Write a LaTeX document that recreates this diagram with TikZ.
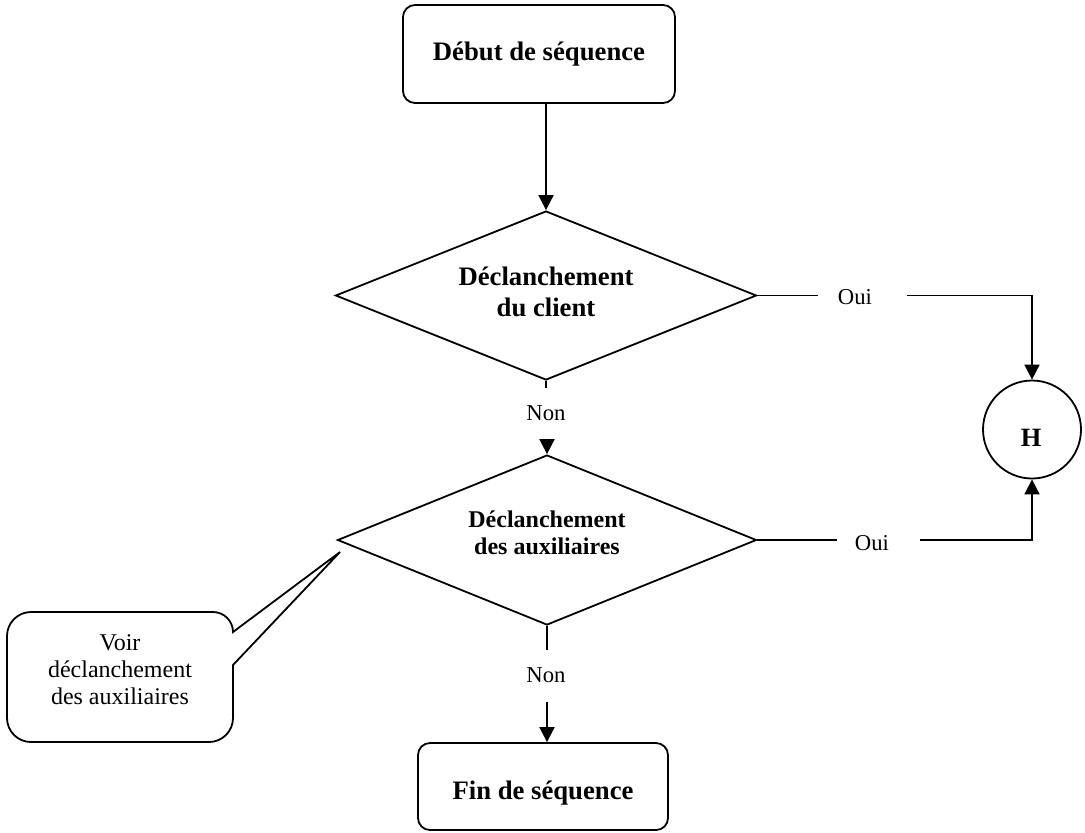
\documentclass[tikz,border=0pt]{standalone}
\usepackage{fontspec}
\setmainfont{Liberation Serif}
\usetikzlibrary{shapes.geometric,arrows.meta}
\begin{document}
\begin{tikzpicture}[x=0.5pt,y=-0.5pt, line width=0.9pt,
  box/.style={draw, rounded corners=6pt, inner sep=0pt,
    font=\fontsize{13.35}{15.5}\selectfont\bfseries},
  decision/.style={draw, diamond, aspect=2.5, inner sep=0pt, align=center},
  lbl/.style={font=\fontsize{11.35}{13.5}\selectfont, inner sep=0pt},
  arr/.style={-{Triangle[length=7.5pt,width=7.5pt]}},
]
\useasboundingbox (0,0) rectangle (1085,832);

% main flow
\node[box, minimum width=136pt, minimum height=49pt] (start) at (539,54) {Début de séquence};
\node[decision, minimum width=210.5pt, minimum height=84.5pt, text depth=4pt,
      font=\fontsize{13.35}{15.5}\selectfont\bfseries] (d1) at (546,295.5) {Déclanchement\\du client};
\node[decision, minimum width=209.5pt, minimum height=85pt, text depth=7pt,
      font=\fontsize{12}{13.5}\selectfont\bfseries] (d2) at (547,540) {Déclanchement\\des auxiliaires};
\node[draw, circle, minimum size=49pt, inner sep=0pt] (h) at (1032,429.5) {};
\node[font=\fontsize{13.2}{15}\selectfont\bfseries, inner sep=0pt] (hl) at (1031,438) {H};
\node[box, minimum width=125pt, minimum height=43.5pt, text height=16pt, text depth=2.9pt]
  (end) at (543,786.5) {Fin de séquence};

\draw[arr] (start.south -| d1.north) -- (d1.north);

% first "Oui" branch
\coordinate (a1) at (818,0 |- d1.east);
\coordinate (b1) at (907,0 |- d1.east);
\node[lbl] (oui1) at (855,297) {Oui};
\draw (d1.east) -- (a1);
\draw[arr] (b1) -| (h.north);

% second "Oui" branch
\coordinate (a2) at (837,0 |- d2.east);
\coordinate (b2) at (920,0 |- d2.east);
\node[lbl] (oui2) at (872,543) {Oui};
\draw (d2.east) -- (a2);
\draw[arr] (b2) -| (h.south);

% first "Non" branch
\coordinate (c1) at (d1.south |- 0,388);
\coordinate (e1) at (d2.north |- 0,440);
\node[lbl] (non1) at (546,413) {Non};
\draw (d1.south) -- (c1);
\draw[arr] (e1) -- (d2.north);

% second "Non" branch
\coordinate (c2) at (d2.south |- 0,650);
\coordinate (e2) at (d2.south |- 0,702);
\node[lbl] (non2) at (546,675) {Non};
\draw (d2.south) -- (c2);
\draw[arr] (e2) -- (d2.south |- end.north);

% callout
\coordinate (tip) at (340,552);
\draw (7,677) [rounded corners=12pt] -- (7,612) [rounded corners=10pt] -- (233,612)
  [sharp corners] -- (233,632) -- (tip) -- (233,665)
  [rounded corners=12pt] -- (233,742) -- (7,742) -- cycle;
\node[align=center, inner sep=0pt, font=\fontsize{12}{13.5}\selectfont] (note) at (120,670)
  {Voir\\déclanchement\\des auxiliaires};
\end{tikzpicture}
\end{document}
